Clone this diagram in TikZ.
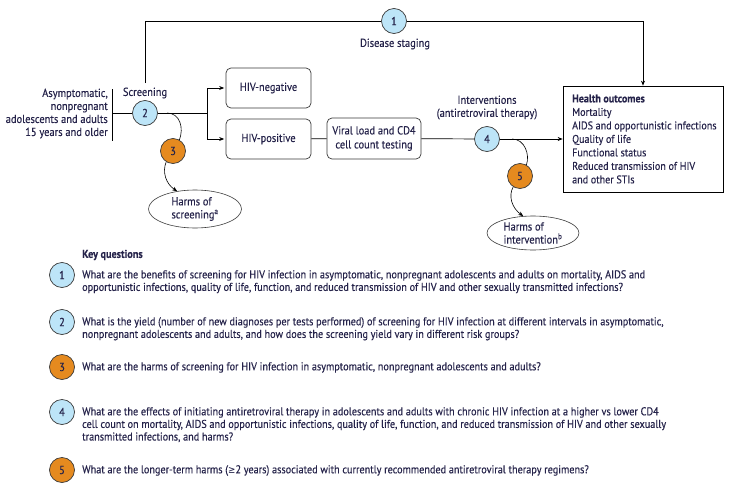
\documentclass[tikz,border=0pt]{standalone}
\usepackage{fontspec}
\setmainfont{PT Sans}[FakeStretch=0.9,FakeBold=0.3]
\newfontfamily\symfont{DejaVu Sans}[FakeStretch=0.86,Scale=0.9]
\usetikzlibrary{arrows.meta,shapes.geometric}
\definecolor{ink}{HTML}{25234A}
\definecolor{qblue}{HTML}{BDE5F8}
\definecolor{qorange}{HTML}{E58A1F}
\definecolor{edge}{HTML}{3A3A3A}
\begin{document}
\begin{tikzpicture}[x=1pt,y=-1pt,
  every node/.style={text=ink, font=\fontsize{11.6}{13}\selectfont},
  kq/.style={circle, draw=edge, line width=0.7pt, minimum size=25pt, inner sep=0pt, font=\fontsize{11.6}{13}\selectfont},
  kqb/.style={kq, fill=qblue},
  kqo/.style={kq, fill=qorange},
  rbox/.style={draw=edge, rounded corners=5pt, line width=0.7pt, align=center, inner sep=0pt},
  harm/.style={ellipse, draw=edge, line width=0.6pt, align=left, inner sep=0pt, minimum width=93pt},
  conn/.style={draw=black, line width=0.7pt},
  arr/.style={conn, -{Stealth[length=5pt,width=4pt]}},
  qtext/.style={anchor=north west, align=left, inner sep=0pt, font=\fontsize{11.35}{12.6}\selectfont},
  lbl/.style={inner sep=0pt, align=center}
]
\useasboundingbox (0,0) rectangle (745,490);

% diagram nodes
\node[lbl, align=right, anchor=east] (pop) at (108,113.5) {Asymptomatic,\\nonpregnant\\adolescents and adults\\15 years and older};
\coordinate (bt) at (112,89);
\coordinate (bb) at (112,141);
\coordinate (bm) at (112,113);
\node[lbl] (scr) at (145,93) {Screening};
\node[kqb] (c2) at (145,113) {2};
\coordinate (topstart) at (145,83);
\node[kqb] (c1) at (394,21) {1};
\node[lbl] (ds) at (395,44) {Disease staging};
\coordinate (br) at (207,113);
\node[rbox, minimum width=85pt, minimum height=40pt] (neg) at (268.5,88) {HIV-negative};
\node[rbox, minimum width=85pt, minimum height=40pt] (pos) at (268.5,139) {HIV-positive};
\node[rbox, minimum width=94pt, minimum height=41pt, font=\fontsize{11.6}{14}\selectfont] (vl) at (374,138.5) {Viral load and CD4\\cell count testing};
\node[lbl] (int) at (487,107.5) {Interventions\\(antiretroviral therapy)};
\node[kqb] (c4) at (487,139) {4};
\node[draw=black, line width=0.7pt, minimum width=160pt, minimum height=106pt, inner sep=0pt] (health) at (643,139) {};
\node[anchor=west, inner sep=0pt, align=left, font=\fontsize{11.2}{13.5}\selectfont] (hotext) at (572,139)
  {\textbf{Health outcomes}\\Mortality\\AIDS and opportunistic infections\\Quality of life\\Functional status\\Reduced transmission of HIV\\and other STIs};
\node[kqo] (c3) at (173,151) {3};
\node[harm, minimum height=38pt] (h1) at (195,209) {Harms of\\screening\textsuperscript{a}};
\coordinate (s3) at (167,113);
\node[kqo] (c5) at (520,176) {5};
\node[harm, minimum height=34pt, minimum width=92pt] (h2) at (533,233) {Harms of\\intervention\textsuperscript{b}};
\coordinate (s5) at (512,139);

% connectors
\draw[conn] (bt) -- (bb);
\draw[conn] (bm) -- (c2);
\draw[conn] (c2) -- (br);
\draw[arr, shorten >=1.5pt] (br) |- (neg.west);
\draw[arr, shorten >=1.5pt] (br) |- (pos.west);
\draw[conn] (pos) -- (vl);
\draw[conn] (vl) -- (c4);
\draw[arr] (c4) -- (health.west |- c4);
\draw[conn] (topstart) |- (c1);
\draw[arr] (c1) -| (health.north);
\draw[conn, line width=0.6pt] (s3) .. controls (180,113) and (184,128) .. (c3.60);
\draw[arr, line width=0.6pt] (c3.238) .. controls (162,172) and (166,184) .. (h1.135);
\draw[conn, line width=0.6pt] (s5) .. controls (525,139) and (530,155) .. (c5.60);
\draw[arr, line width=0.6pt] (c5.238) .. controls (508,196) and (512,208) .. (h2.120);

% key questions
\node[anchor=west, inner sep=0pt, font=\fontsize{11.35}{12.6}\selectfont] (kqh) at (82,255) {\textbf{Key questions}};
\node[kqb] (k1) at (62,275) {1};
\node[qtext] (q1) at (82,270) {What are the benefits of screening for HIV infection in asymptomatic, nonpregnant adolescents and adults on mortality, AIDS and\\opportunistic infections, quality of life, function, and reduced transmission of HIV and other sexually transmitted infections?};
\node[kqb] (k2) at (62,322) {2};
\node[qtext] (q2) at (82,317) {What is the yield (number of new diagnoses per tests performed) of screening for HIV infection at different intervals in asymptomatic,\\nonpregnant adolescents and adults, and how does the screening yield vary in different risk groups?};
\node[kqo] (k3) at (62,367) {3};
\node[qtext] (q3) at (82,362) {What are the harms of screening for HIV infection in asymptomatic, nonpregnant adolescents and adults?};
\node[kqb] (k4) at (62,412) {4};
\node[qtext] (q4) at (82,407) {What are the effects of initiating antiretroviral therapy in adolescents and adults with chronic HIV infection at a higher vs lower CD4\\cell count on mortality, AIDS and opportunistic infections, quality of life, function, and reduced transmission of HIV and other sexually\\transmitted infections, and harms?};
\node[kqo] (k5) at (62,470) {5};
\node[qtext] (q5) at (82,465) {What are the longer-term harms ({\symfont ≥}2 years) associated with currently recommended antiretroviral therapy regimens?};
\end{tikzpicture}
\end{document}
